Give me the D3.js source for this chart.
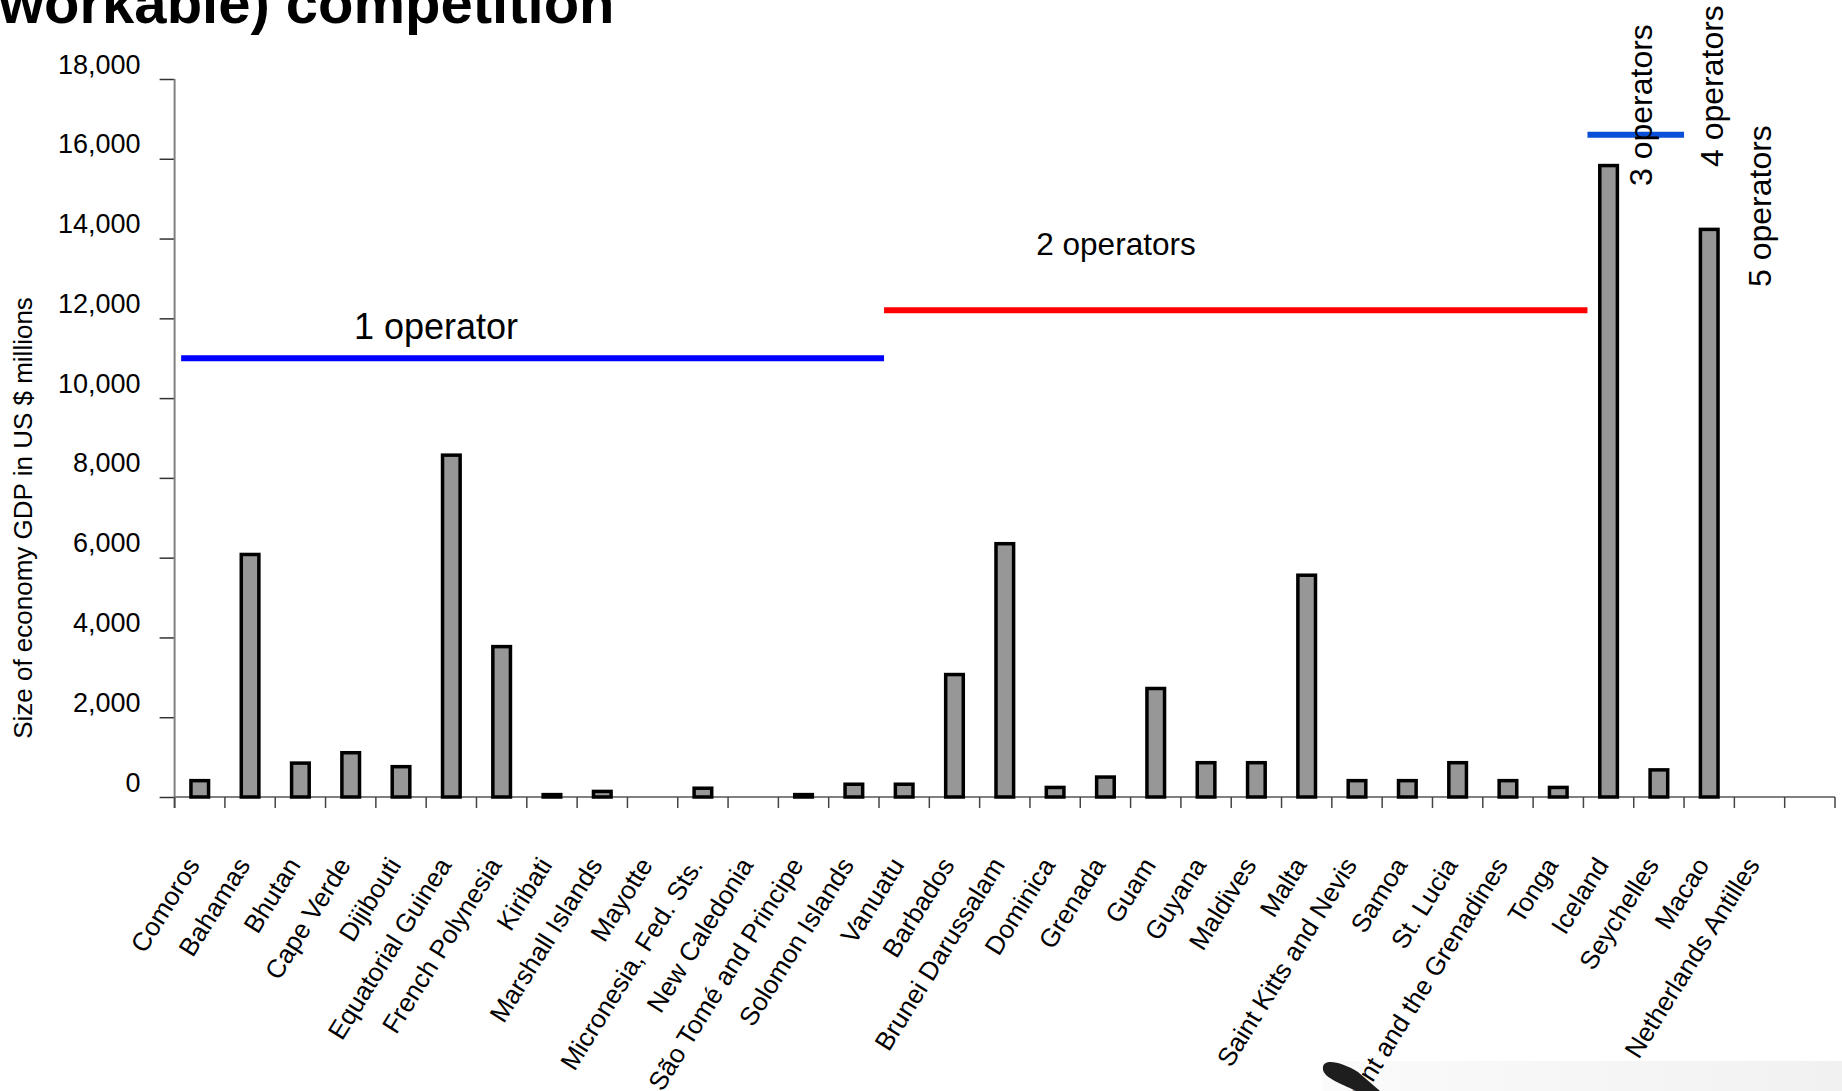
<!DOCTYPE html>
<html>
<head>
<meta charset="utf-8">
<script src="https://cdn.jsdelivr.net/npm/d3@7"></script>
<style>
  html, body { margin: 0; padding: 0; background: #fff; overflow: hidden; }
  svg { display: block; }
  text { font-family: "Liberation Sans", Arial, Helvetica, sans-serif; fill: #000; }
</style>
</head>
<body>
<svg id="chart" width="1842" height="1091"></svg>
<script>
// Economies grouped by number of mobile operators
const categories = [
  "Comoros", "Bahamas", "Bhutan", "Cape Verde", "Dijibouti", "Equatorial Guinea",
  "French Polynesia", "Kiribati", "Marshall Islands", "Mayotte", "Micronesia, Fed. Sts.",
  "New Caledonia", "São Tomé and Principe", "Solomon Islands",
  "Vanuatu", "Barbados", "Brunei Darussalam", "Dominica", "Grenada", "Guam", "Guyana",
  "Maldives", "Malta", "Saint Kitts and Nevis", "Samoa", "St. Lucia",
  "St. Vincent and the Grenadines", "Tonga",
  "Iceland", "Seychelles", "Macao", "Netherlands Antilles", ""
];

// GDP, US$ millions (null = no figure)
const gdpValues = [
  410, 6080, 850, 1110, 760, 8570, 3770, 60, 140, null, 220, null, 60, 320,
  320, 3070, 6350, 240, 500, 2720, 860, 860, 5560, 410, 410, 860, 410, 240,
  15830, 680, 14230, null, null
];

const yTicks = [0, 2000, 4000, 6000, 8000, 10000, 12000, 14000, 16000, 18000];

// Operator groups: label, level of the bracket line, span in category slots
const groupLabels = ["1 operator", "2 operators", "3 operators", "4 operators", "5 operators"];
const groupLevels = [11000, 12200, 16600];
const groupSpans  = [[0.13, 14.1], [14.1, 28.08], [28.08, 30]];

const titleText = "workable) competition";
const yTitleText = "Size of economy GDP in US $ millions";

const svg = d3.select("#chart");
const plot = { left: 174.6, right: 1835, top: 79, bottom: 797 };

const x = d3.scaleBand()
  .domain(d3.range(categories.length))
  .range([plot.left, plot.right])
  .paddingInner(0.65)
  .paddingOuter(0.325);
const y = d3.scaleLinear().domain([0, 18000]).range([plot.bottom, plot.top]);
const step = x.step();
const slotX = p => plot.left + p * step;

// Title (continues from the line above)
svg.append("text")
  .attr("x", -1).attr("y", 23)
  .style("font-size", "58px").style("font-weight", "bold")
  .text(titleText);

// Y axis
const yAxis = d3.axisLeft(y)
  .tickValues(yTicks)
  .tickSize(15)
  .tickSizeOuter(0)
  .tickPadding(19)
  .tickFormat(d3.format(","));
const gy = svg.append("g").attr("transform", `translate(${plot.left},0)`).call(yAxis);
gy.select(".domain").remove();
gy.selectAll(".tick line").attr("stroke", "#333").attr("stroke-width", 1.5);
gy.selectAll(".tick text")
  .attr("dy", "-6px")
  .style("font-size", "27px")
  .style("font-family", "'Liberation Sans', Arial, sans-serif")
  .attr("fill", "#000");

svg.append("line")
  .attr("x1", plot.left).attr("x2", plot.left)
  .attr("y1", plot.top).attr("y2", plot.bottom + 11)
  .attr("stroke", "#808080").attr("stroke-width", 2);

svg.append("text")
  .attr("transform", `translate(32,518) rotate(-90)`)
  .attr("text-anchor", "middle")
  .style("font-size", "26px")
  .text(yTitleText);

// Bottom overlay panel (drawn under the labels)
const grad = svg.append("defs").append("linearGradient")
  .attr("id", "panel").attr("x1", "0").attr("x2", "1").attr("y1", "0").attr("y2", "0");
grad.append("stop").attr("offset", "0").attr("stop-color", "#fbfbfb");
grad.append("stop").attr("offset", "1").attr("stop-color", "#f1f1f1");
svg.append("rect")
  .attr("x", 1322).attr("y", 1061).attr("width", 520).attr("height", 30)
  .attr("fill", "url(#panel)");

// X axis baseline and slot boundary ticks
svg.append("line")
  .attr("x1", plot.left).attr("x2", plot.right)
  .attr("y1", plot.bottom).attr("y2", plot.bottom)
  .attr("stroke", "#808080").attr("stroke-width", 2);
svg.append("g").selectAll("line")
  .data(d3.range(categories.length + 1))
  .join("line")
  .attr("x1", d => slotX(d)).attr("x2", d => slotX(d))
  .attr("y1", plot.bottom).attr("y2", plot.bottom + 11)
  .attr("stroke", "#444").attr("stroke-width", 1.5);

// Bars
const barData = categories.map((c, i) => ({ c, i, v: gdpValues[i] })).filter(d => d.v != null);
svg.append("g").selectAll("rect")
  .data(barData)
  .join("rect")
  .attr("x", d => x(d.i))
  .attr("width", x.bandwidth())
  .attr("y", d => y(d.v))
  .attr("height", d => y(0) - y(d.v))
  .attr("fill", "#979797")
  .attr("stroke", "#000")
  .attr("stroke-width", 3.5);

// Category labels
svg.append("g").selectAll("text")
  .data(categories.map((c, i) => ({ c, i })).filter(d => d.c))
  .join("text")
  .attr("transform", d => `translate(${x(d.i) + x.bandwidth() / 2 + 1},865) rotate(-58)`)
  .attr("text-anchor", "end")
  .style("font-size", "26px")
  .text(d => d.c);

// Operator group brackets
const lineColors = ["#0000ff", "#ff0000", "#0a4fd8"];
svg.append("g").selectAll("line")
  .data(groupSpans.map((s, i) => ({ s, level: groupLevels[i], color: lineColors[i] })))
  .join("line")
  .attr("x1", d => slotX(d.s[0])).attr("x2", d => slotX(d.s[1]))
  .attr("y1", d => y(d.level)).attr("y2", d => y(d.level))
  .attr("stroke", d => d.color).attr("stroke-width", 6);

svg.append("text")
  .attr("x", 436).attr("y", 339).attr("text-anchor", "middle")
  .style("font-size", "36px").text(groupLabels[0]);
svg.append("text")
  .attr("x", 1116).attr("y", 255).attr("text-anchor", "middle")
  .style("font-size", "31.5px").text(groupLabels[1]);

const vertical = [[1652, 186], [1723, 167], [1771, 287]];
vertical.forEach((p, k) => {
  svg.append("text")
    .attr("transform", `translate(${p[0]},${p[1]}) rotate(-90)`)
    .attr("text-anchor", "start")
    .style("font-size", "32px")
    .text(groupLabels[k + 2]);
});

// Dark pointer shape over the panel
svg.append("path")
  .attr("d", "M1323,1067 C1324,1058 1342,1062 1358,1072 L1380,1091 L1356,1091 C1340,1083 1321,1077 1323,1067 Z")
  .attr("fill", "#1e1e1e");
</script>
</body>
</html>
